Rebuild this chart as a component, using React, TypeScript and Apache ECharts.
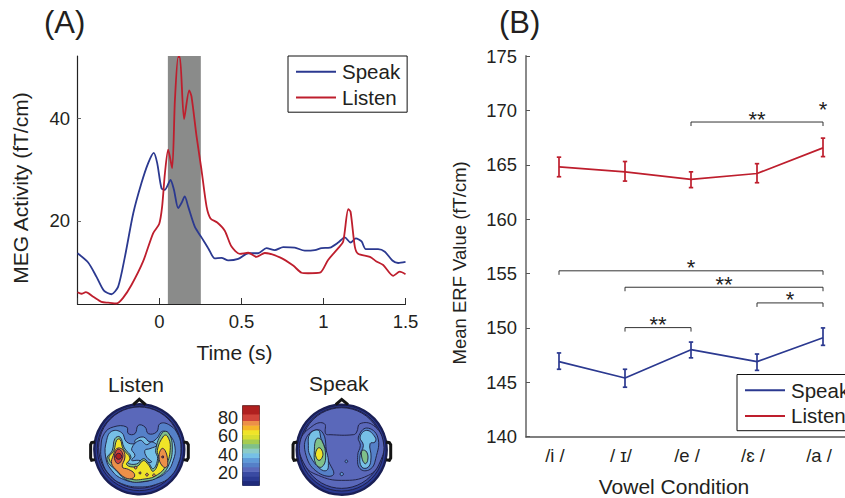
import React, { useEffect, useRef } from "react";
import * as echarts from "echarts";

const FONT = "Liberation Sans";
const INK = "#231f20";
const BLUE = "#2b3990";
const RED = "#be1e2d";

// Panel A
const speakWave: [number, number][] = [[-0.5,13.7],[-0.435,11.9],[-0.384,9.1],[-0.339,6.4],[-0.293,5.7],[-0.252,7.2],[-0.211,13],[-0.16,21.5],[-0.11,27.4],[-0.069,31.3],[-0.035,33.3],[-0.014,31.3],[0.012,26.4],[0.033,26.1],[0.067,28],[0.088,26.1],[0.114,22.5],[0.134,23.5],[0.154,24.8],[0.175,22.8],[0.215,18.9],[0.256,16.8],[0.297,14.7],[0.337,12.7],[0.378,12.8],[0.419,12.3],[0.48,12.6],[0.541,13.7],[0.602,13.7],[0.652,14.7],[0.703,14.3],[0.754,14.9],[0.825,14.8],[0.886,14.2],[0.947,14.3],[0.988,14.7],[1.039,14.8],[1.09,15.8],[1.13,16.8],[1.165,15.8],[1.197,16.6],[1.232,16],[1.258,14.5],[1.333,14.5],[1.374,14],[1.42,12.3],[1.455,11.8],[1.5,12]];
const listenWave: [number, number][] = [[-0.5,6.1],[-0.476,5.8],[-0.449,6.1],[-0.404,5.2],[-0.354,4.2],[-0.313,4.05],[-0.262,3.9],[-0.222,5],[-0.171,7.5],[-0.1,12.1],[-0.039,17.6],[-0.002,19.4],[0.016,22.8],[0.033,29.3],[0.053,33.9],[0.077,30.3],[0.094,43.6],[0.114,52],[0.124,52],[0.15,39.9],[0.181,45.5],[0.195,44.3],[0.226,36.5],[0.256,30],[0.287,22.8],[0.311,20.5],[0.352,19.7],[0.398,18.1],[0.439,15],[0.49,13.6],[0.541,13.8],[0.591,13],[0.642,13.75],[0.734,12.9],[0.815,11.3],[0.866,9.9],[0.906,9.8],[0.978,9.9],[1.028,12.4],[1.09,14.7],[1.12,16],[1.151,22.3],[1.165,21.8],[1.191,15],[1.211,13.6],[1.283,13],[1.323,12.1],[1.364,11.4],[1.425,9.3],[1.465,10.1],[1.5,9.6]];
const bandRange = [0.051, 0.252];
const waveYTicks = [20, 40];

// Panel B
const vowels = ["/i /", "/ ɪ/", "/e /", "/ɛ /", "/a /"];
const speakMean = [146.9, 145.4, 148, 146.9, 149.1];
const speakLow = [146.2, 144.55, 147.25, 146.1, 148.4];
const speakHigh = [147.7, 146.2, 148.7, 147.6, 150];
const listenMean = [164.8, 164.35, 163.65, 164.2, 166.55];
const listenLow = [163.9, 163.5, 162.9, 163.35, 165.75];
const listenHigh = [165.7, 165.3, 164.35, 165.1, 167.45];
const bracketFrom = [2, 4, 0, 1, 3, 1];
const bracketTo = [4, 4, 4, 4, 4, 2];
const bracketValue = [168.93, 169.78, 155.25, 153.74, 152.3, 150.03];
const bracketStars = ["**", "*", "*", "**", "*", "**"];

// Colour scale
const scaleValues = [7,12,17,22,27,32,37,42,47,52,57,62,67,72,77,84,93];
const scaleColors = ["#1f2a7a","#2b3a92","#3a4aa2","#5a68ba","#5580c8","#5f9ad8","#76c0e6","#8ccbc8","#7fc08a","#a6cc50","#d8de30","#f0e428","#f5b52a","#ec9048","#d0443a","#b0201f","#7f1416"];
const scaleTicks = [20, 40, 60, 80];

type Layer = { level: number; circle?: number[]; pts?: number[][] };

// Topographies: contour level and outline in head coordinates
const listenLayers: Layer[] = [
  { level: 12, circle: [163, 172, 135] },
  { level: 17, circle: [163, 170, 126] },
  { level: 22, circle: [163, 167, 122] },
  { level: 27, pts: [[58,125],[85,105],[125,105],[130,125],[150,125],[160,100],[180,105],[190,125],[215,120],[225,95],[255,100],[280,130],[288,170],[280,215],[255,255],[220,275],[165,285],[110,275],[75,250],[52,210],[48,165]] },
  { level: 37, pts: [[65,145],[80,118],[110,122],[125,150],[150,155],[150,145],[175,135],[195,150],[215,140],[232,118],[255,130],[270,165],[265,205],[245,240],[205,262],[160,270],[115,262],[80,235],[62,195]] },
  { level: 32, pts: [[140,170],[165,145],[185,158],[200,150],[215,160],[195,170],[180,175],[185,195],[200,210],[180,210],[160,205],[140,205],[150,190]] },
  { level: 47, pts: [[90,140],[105,135],[118,168],[138,195],[128,212],[155,216],[175,200],[190,212],[205,230],[218,200],[212,175],[232,122],[250,122],[262,165],[250,222],[222,254],[180,268],[130,266],[92,234],[66,202],[82,175]] },
  { level: 62, pts: [[95,145],[105,142],[115,172],[135,198],[125,218],[155,224],[175,206],[190,218],[205,238],[222,202],[217,175],[236,132],[247,132],[256,167],[243,220],[218,248],[180,261],[132,259],[97,228],[72,200],[87,175]] },
  { level: 72, pts: [[85,190],[95,170],[112,172],[120,195],[112,225],[130,232],[148,245],[145,258],[122,258],[95,235],[80,215]] },
  { level: 72, pts: [[222,195],[230,170],[240,175],[248,205],[245,225],[232,222]] },
  { level: 77, pts: [[90,185],[100,172],[112,182],[112,200],[100,215],[90,205]] },
  { level: 84, circle: [101, 193, 9] },
  { level: 77, circle: [233, 195, 3] },
  { level: 72, circle: [152, 227, 4] },
  { level: 72, circle: [165, 243, 3] },
  { level: 72, circle: [186, 248, 4] },
  { level: 72, circle: [207, 250, 4] },
];
const speakLayers: Layer[] = [
  { level: 12, circle: [170, 173, 135] },
  { level: 17, circle: [170, 171, 126] },
  { level: 22, circle: [170, 168, 121] },
  { level: 22, pts: [[45,150],[85,100],[118,95],[122,125],[135,128],[205,128],[215,120],[225,95],[265,100],[295,150],[285,210],[250,250],[170,265],[100,250],[60,220]] },
  { level: 27, pts: [[68,130],[110,118],[128,200],[145,248],[100,242],[63,190]] },
  { level: 37, pts: [[75,125],[100,115],[108,140],[125,180],[130,215],[125,235],[105,230],[75,190],[70,160]] },
  { level: 27, pts: [[220,135],[245,108],[278,135],[272,200],[255,232],[225,230],[218,190],[226,160]] },
  { level: 37, pts: [[225,135],[245,115],[270,135],[270,150],[255,155],[258,195],[250,225],[230,225],[225,190],[235,160]] },
  { level: 47, pts: [[95,140],[110,145],[122,195],[110,225],[92,215],[88,175]] },
  { level: 47, pts: [[232,175],[245,180],[248,205],[240,215],[230,195]] },
  { level: 62, pts: [[102,167],[112,178],[112,195],[102,205],[93,195],[93,178]] },
  { level: 32, circle: [184, 208, 4] },
  { level: 32, circle: [170, 246, 5] },
];
const listenFrame = { nose: [[145,38],[163,22],[182,38]], earL: [[30,150],[20,152],[17,158],[17,198],[20,205],[30,203]], earR: [[296,150],[306,152],[310,158],[310,198],[306,205],[296,203]], ring: [163, 172, 135] };
const speakFrame = { nose: [[152,38],[170,22],[189,38]], earL: [[37,150],[27,152],[24,158],[24,198],[27,205],[37,203]], earR: [[303,150],[313,152],[317,158],[317,198],[313,205],[303,203]], ring: [170, 173, 135] };

const colorOf = (v: number) => {
  let c = scaleColors[0];
  scaleValues.forEach((s, i) => { if (v >= s) c = scaleColors[i]; });
  return c;
};

function headSeries(name: string, gridAxis: number, layers: Layer[], frame: any) {
  const render = (params: any, api: any) => {
    const px = api.size([1, 1]);
    if (params.dataIndex < layers.length) {
      const l = layers[params.dataIndex];
      const style = { fill: colorOf(l.level), stroke: "#1c1c3c", lineWidth: 0.9, opacity: 1 };
      if (l.circle) {
        const p = api.coord([l.circle[0], l.circle[1]]);
        return { type: "circle", shape: { cx: p[0], cy: p[1], r: l.circle[2] * px[0] }, style };
      }
      return { type: "polygon", shape: { points: l.pts!.map((q) => api.coord(q)), smooth: 0.45 }, style };
    }
    const p = api.coord([frame.ring[0], frame.ring[1]]);
    const line = { stroke: "#141414", lineWidth: 3, fill: "none" };
    return {
      type: "group",
      children: [
        { type: "circle", shape: { cx: p[0], cy: p[1], r: frame.ring[2] * px[0] }, style: { fill: "none", stroke: "#1a1f55", lineWidth: 2.4 } },
        { type: "polyline", shape: { points: frame.nose.map((q: number[]) => api.coord(q)) }, style: line },
        { type: "polyline", shape: { points: frame.earL.map((q: number[]) => api.coord(q)) }, style: line },
        { type: "polyline", shape: { points: frame.earR.map((q: number[]) => api.coord(q)) }, style: line },
      ],
    };
  };
  return {
    type: "custom", name, xAxisIndex: gridAxis, yAxisIndex: gridAxis, coordinateSystem: "cartesian2d", silent: true, clip: false,
    encode: { x: 0, y: 1 },
    data: [...layers.map((l) => [frame.ring[0], frame.ring[1], l.level]), [frame.ring[0], frame.ring[1], 0]],
    renderItem: render,
  };
}

function errorSeries(name: string, color: string, low: number[], high: number[]) {
  return {
    type: "custom", name, xAxisIndex: 1, yAxisIndex: 1, silent: true, z: 4,
    encode: { x: 0, y: [1, 2] },
    data: low.map((v, i) => [i, v, high[i]]),
    renderItem: (_: any, api: any) => {
      const a = api.coord([api.value(0), api.value(1)]);
      const b = api.coord([api.value(0), api.value(2)]);
      const style = { stroke: color, lineWidth: 1.7, fill: "none" };
      const seg = (x1: number, y1: number, x2: number, y2: number) => ({ type: "line", shape: { x1, y1, x2, y2 }, style });
      return { type: "group", children: [seg(a[0], a[1], b[0], b[1]), seg(a[0] - 2.2, a[1], a[0] + 2.2, a[1]), seg(b[0] - 2.2, b[1], b[0] + 2.2, b[1])] };
    },
  };
}

const legendBase = {
  orient: "vertical", backgroundColor: "#fff", borderColor: "#111", borderWidth: 1, borderRadius: 0, icon: "rect",
  padding: [4, 7, 3, 8], itemWidth: 40, itemHeight: 2, itemGap: 2.2, data: ["Speak", "Listen"], selectedMode: false,
  textStyle: { fontFamily: FONT, fontSize: 20.5, color: INK, lineHeight: 23.5, padding: [0, 0, 0, 1] },
};

const hidden = { show: false };
const axisName = (size: number) => ({ fontFamily: FONT, fontSize: size, color: INK });
const freeGrid = { outerBoundsMode: "none" };

const option: any = {
  animation: false,
  textStyle: { fontFamily: FONT },
  grid: [
    { ...freeGrid, left: 77.5, top: 56, width: 328, height: 248 },
    { ...freeGrid, left: 526, top: 56, width: 330, height: 380.7 },
    { ...freeGrid, left: 242.5, top: 405.7, width: 17, height: 79.6, show: true, borderColor: "#444", borderWidth: 1, backgroundColor: "transparent" },
    { ...freeGrid, left: 79.3, top: 389.3, width: 120, height: 120 },
    { ...freeGrid, left: 281.7, top: 389.7, width: 120, height: 120 },
  ],
  xAxis: [
    { gridIndex: 0, type: "value", min: -0.5, max: 1.5, interval: 0.5, splitLine: hidden, name: "Time (s)", nameLocation: "middle", nameGap: 38,
      nameTextStyle: { ...axisName(21), padding: [0, 14, 0, 0] },
      axisLine: { onZero: false, lineStyle: { color: "#222", width: 1.2 } }, axisTick: { inside: true, length: 6, lineStyle: { color: "#333" } },
      axisLabel: { margin: 8, fontSize: 18.5, color: INK, fontFamily: FONT, formatter: (v: number) => (v < 0 ? "" : String(v)) } },
    { gridIndex: 1, type: "category", data: vowels, splitLine: hidden, name: "Vowel Condition", nameLocation: "middle", nameGap: 39,
      nameTextStyle: { ...axisName(21), padding: [0, 34, 0, 0] },
      axisLine: { onZero: false, lineStyle: { color: "#555", width: 1.5 } }, axisTick: { inside: true, length: 4.5, alignWithLabel: true, lineStyle: { color: "#555" } },
      axisLabel: { margin: 9, fontSize: 18.5, color: INK, fontFamily: FONT, interval: 0, padding: [0, 8, 0, 0] } },
    { gridIndex: 2, type: "value", min: 0, max: 1, show: false },
    { gridIndex: 3, type: "value", min: -17, max: 343, show: false },
    { gridIndex: 4, type: "value", min: -10, max: 350, show: false },
  ],
  yAxis: [
    { gridIndex: 0, type: "value", min: 3.8, max: 52.2, splitLine: hidden, name: "MEG Activity (fT/cm)", nameLocation: "middle", nameGap: 47,
      nameTextStyle: { ...axisName(21), padding: [0, 16, 0, 0] },
      axisLine: { show: true, onZero: false, lineStyle: { color: "#222", width: 1.2 } }, axisTick: { show: true, inside: true, length: 3.5, customValues: waveYTicks, lineStyle: { color: "#666" } },
      axisLabel: { margin: 7.5, fontSize: 18.5, color: INK, fontFamily: FONT, customValues: waveYTicks } },
    { gridIndex: 1, type: "value", min: 140, max: 175, interval: 5, splitLine: hidden, name: "Mean ERF Value (fT/cm)", nameLocation: "middle", nameGap: 57,
      nameTextStyle: { ...axisName(18.5), padding: [0, 33, 0, 0] },
      axisLine: { show: true, onZero: false, lineStyle: { color: "#8a8a8a", width: 2 } }, axisTick: { show: true, inside: true, length: 4, lineStyle: { color: "#555" } },
      axisLabel: { margin: 9, fontSize: 18.4, color: INK, fontFamily: FONT } },
    { gridIndex: 2, type: "value", min: 7, max: 93, splitLine: hidden, axisLine: { show: false }, axisTick: { show: false },
      axisLabel: { margin: 4.5, fontSize: 18, color: INK, fontFamily: FONT, customValues: scaleTicks } },
    { gridIndex: 3, type: "value", min: -8, max: 352, inverse: true, show: false },
    { gridIndex: 4, type: "value", min: -7, max: 353, inverse: true, show: false },
  ],
  legend: [
    { ...legendBase, left: 288, top: 56 },
    { ...legendBase, left: 737, top: 374.5 },
  ],
  series: [
    { type: "line", name: "Speak", xAxisIndex: 0, yAxisIndex: 0, data: speakWave, showSymbol: false, symbol: "none", smooth: 0.25, lineStyle: { color: BLUE, width: 1.8 }, itemStyle: { color: BLUE }, z: 3,
      markArea: { silent: true, z: 1, itemStyle: { color: "#8a8b8a", opacity: 1 }, data: [[{ xAxis: bandRange[0] }, { xAxis: bandRange[1] }]] } },
    { type: "line", name: "Listen", xAxisIndex: 0, yAxisIndex: 0, data: listenWave, showSymbol: false, symbol: "none", smooth: 0.25, lineStyle: { color: RED, width: 1.8 }, itemStyle: { color: RED }, z: 4 },
    { type: "line", name: "Speak", xAxisIndex: 1, yAxisIndex: 1, data: speakMean, showSymbol: false, symbol: "none", lineStyle: { color: BLUE, width: 1.7 }, itemStyle: { color: BLUE }, z: 3 },
    { type: "line", name: "Listen", xAxisIndex: 1, yAxisIndex: 1, data: listenMean, showSymbol: false, symbol: "none", lineStyle: { color: RED, width: 1.7 }, itemStyle: { color: RED }, z: 3 },
    errorSeries("Speak SEM", BLUE, speakLow, speakHigh),
    errorSeries("Listen SEM", RED, listenLow, listenHigh),
    {
      type: "custom", name: "Significance", xAxisIndex: 1, yAxisIndex: 1, silent: true, z: 2,
      encode: { x: [0, 1], y: 2 },
      data: bracketFrom.map((f, i) => [f, bracketTo[i], bracketValue[i]]),
      renderItem: (params: any, api: any) => {
        const a = api.coord([api.value(0), api.value(2)]);
        const b = api.coord([api.value(1), api.value(2)]);
        const style = { stroke: "#333", lineWidth: 1, fill: "none" };
        const children: any[] = [{
          type: "text",
          style: { text: bracketStars[params.dataIndex], x: (a[0] + b[0]) / 2, y: a[1] - 3, fill: "#222", font: `22px "${FONT}"`, textAlign: "center", textVerticalAlign: "middle" },
        }];
        if (a[0] !== b[0]) children.unshift({ type: "polyline", shape: { points: [[a[0], a[1] + 4], a, b, [b[0], b[1] + 4]] }, style });
        return { type: "group", children };
      },
    },
    {
      type: "custom", name: "Scale", xAxisIndex: 2, yAxisIndex: 2, silent: true,
      encode: { x: 0, y: 1 },
      data: scaleValues.map((v, i) => [0, v, scaleValues[i + 1] ?? 93]),
      renderItem: (params: any, api: any) => {
        const a = api.coord([0, api.value(1)]);
        const b = api.coord([1, api.value(2)]);
        return { type: "rect", shape: { x: a[0], y: b[1], width: b[0] - a[0], height: a[1] - b[1] + 0.5 }, style: { fill: scaleColors[params.dataIndex] } };
      },
    },
    headSeries("Listen map", 3, listenLayers, listenFrame),
    headSeries("Speak map", 4, speakLayers, speakFrame),
  ],
  graphic: [
    { type: "text", left: 44, top: 7, style: { text: "(A)", font: `31px "${FONT}"`, fill: INK } },
    { type: "text", left: 499, top: 7, style: { text: "(B)", font: `31px "${FONT}"`, fill: INK } },
    { type: "text", left: 108, top: 374, style: { text: "Listen", font: `21px "${FONT}"`, fill: INK } },
    { type: "text", left: 309, top: 373, style: { text: "Speak", font: `21px "${FONT}"`, fill: INK } },
  ],
};

export default function App() {
  const ref = useRef<HTMLDivElement>(null);
  useEffect(() => {
    document.body.style.margin = "0";
    const chart = echarts.init(ref.current!, undefined, { renderer: "svg" });
    chart.setOption(option);
    return () => chart.dispose();
  }, []);
  return <div ref={ref} style={{ width: 845, height: 498, overflow: "hidden" }} />;
}
